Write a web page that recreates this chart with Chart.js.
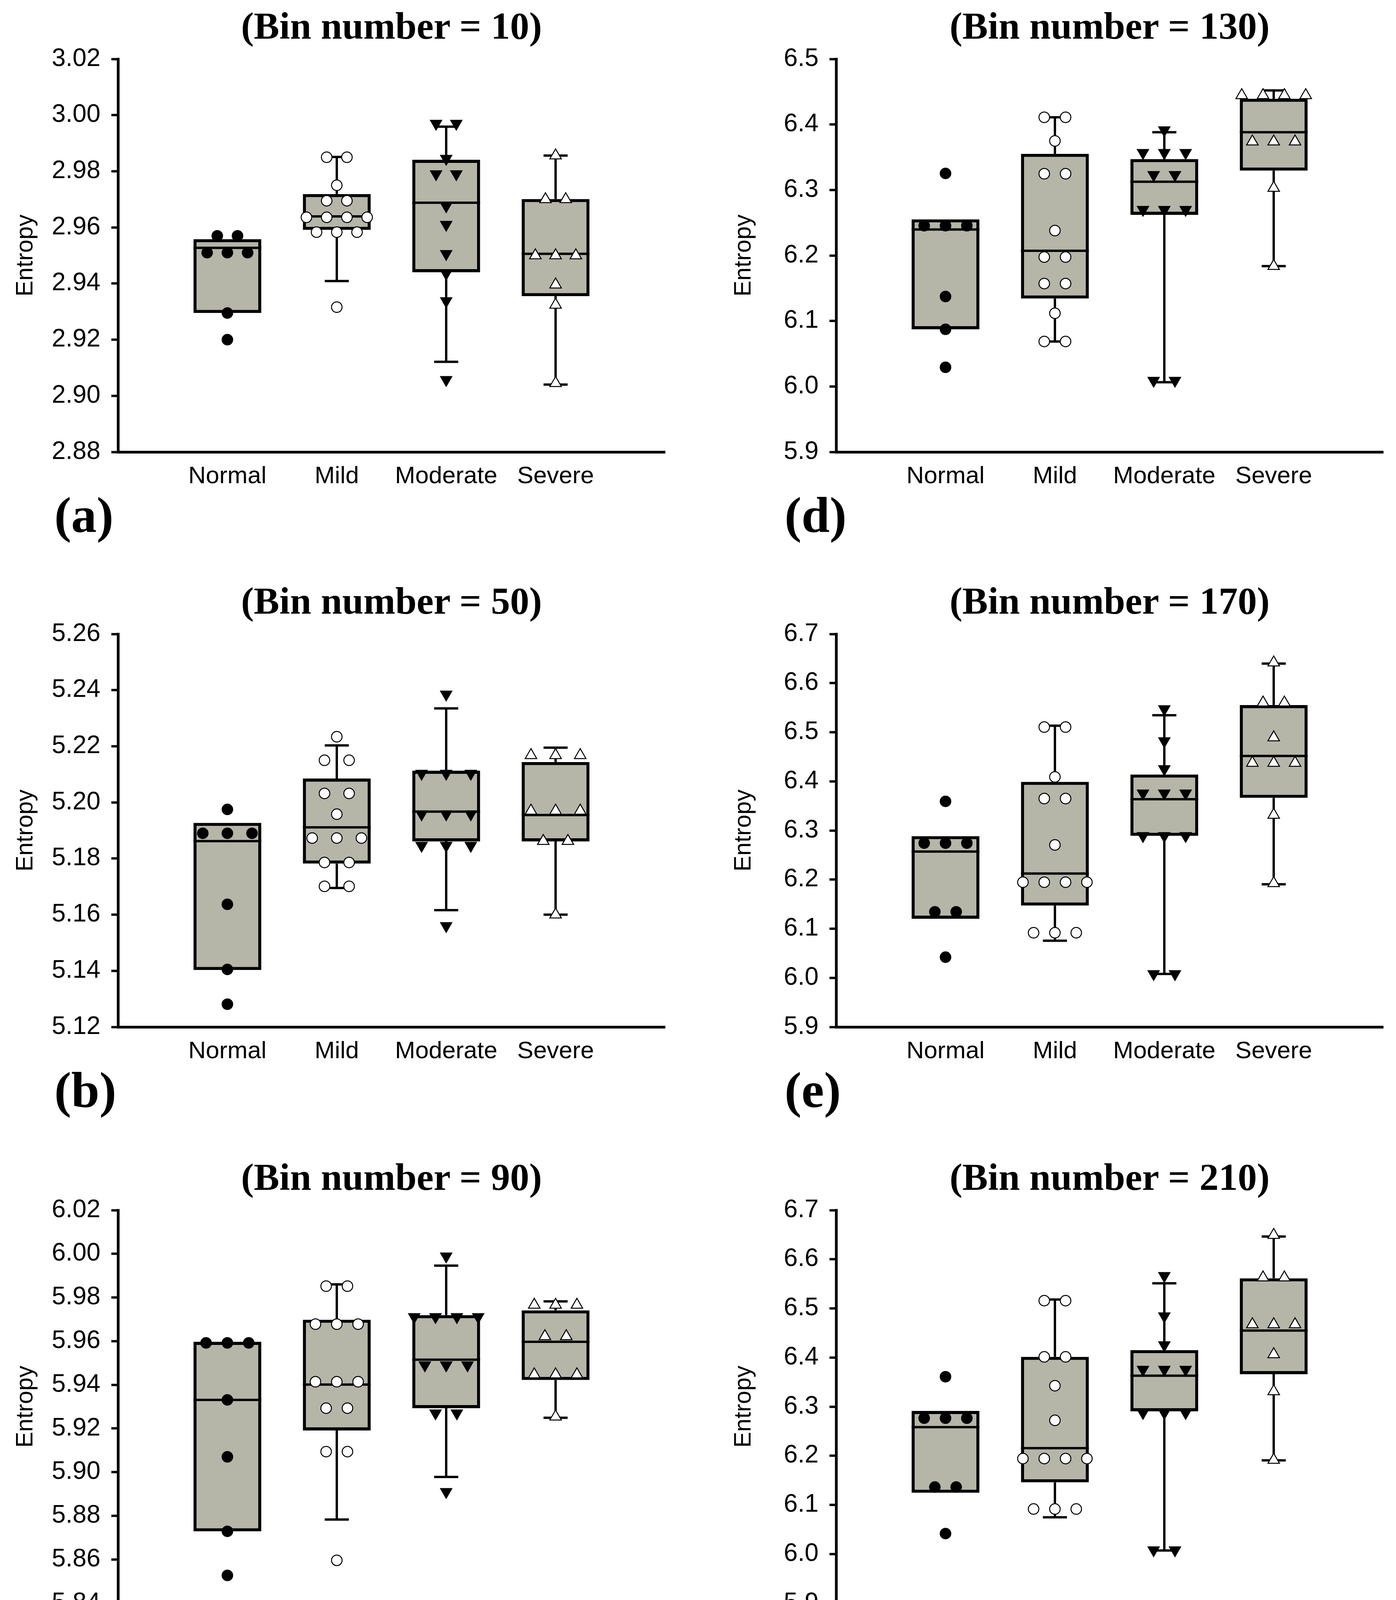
<!DOCTYPE html>
<html>
<head>
<meta charset="utf-8">
<script src="https://cdn.jsdelivr.net/npm/chart.js@4.4.0/dist/chart.umd.min.js"></script>
<style>
  body { margin: 0; width: 3573px; height: 4364px; background: #fff; position: relative; overflow: hidden; }
  canvas { position: absolute; }
  .title { position: absolute; font: bold 98px "Liberation Serif", serif; line-height: 1; white-space: nowrap; transform: translateX(-50%); color: #000; }
  .tag { position: absolute; font: bold 130px "Liberation Serif", serif; line-height: 1; color: #000; }
</style>
</head>
<body>
<script>
const groups = ["Normal", "Mild", "Moderate", "Severe"];

// bin number = 10
const q1_10 = [2.9295, 2.9591, 2.9440, 2.9355];
const med_10 = [2.9527, 2.9639, 2.9688, 2.9506];
const q3_10 = [2.9558, 2.9719, 2.9841, 2.9701];
const lo_10 = [null, 2.9409, 2.9121, 2.9040];
const hi_10 = [null, 2.9851, 2.9959, 2.9856];
const normal_10 = [2.957, 2.957, 2.951, 2.951, 2.951, 2.9295, 2.920];
const mild_10 = [2.985, 2.985, 2.975, 2.9695, 2.9695, 2.9636, 2.9636, 2.9636, 2.9636, 2.9583, 2.9583, 2.9583, 2.9316];
const moderate_10 = [2.997, 2.997, 2.9845, 2.979, 2.979, 2.9676, 2.961, 2.9506, 2.9436, 2.9338, 2.9057];
const severe_10 = [2.9856, 2.970, 2.970, 2.950, 2.950, 2.950, 2.9396, 2.9324, 2.9045];

// bin number = 50
const q1_50 = [5.1403, 5.1782, 5.1861, 5.1861];
const med_50 = [5.1862, 5.1911, 5.1967, 5.1955];
const q3_50 = [5.1927, 5.2085, 5.2113, 5.2144];
const lo_50 = [null, 5.1695, 5.1616, 5.1600];
const hi_50 = [null, 5.2203, 5.2335, 5.2195];
const normal_50 = [5.1975, 5.189, 5.189, 5.189, 5.1637, 5.1405, 5.1281];
const mild_50 = [5.2234, 5.215, 5.215, 5.2032, 5.2032, 5.1958, 5.1873, 5.1873, 5.1873, 5.1786, 5.1786, 5.1701, 5.1701];
const moderate_50 = [5.2385, 5.2103, 5.2103, 5.2103, 5.1958, 5.1958, 5.1958, 5.1846, 5.1846, 5.1846, 5.156];
const severe_50 = [5.2168, 5.2168, 5.2168, 5.197, 5.197, 5.197, 5.1862, 5.1862, 5.160];

// bin number = 90
const q1_90 = [5.8729, 5.9191, 5.9293, 5.9422];
const med_90 = [5.9331, 5.9401, 5.9515, 5.9597];
const q3_90 = [5.9597, 5.9698, 5.9719, 5.9741];
const lo_90 = [null, 5.8783, 5.8978, 5.9249];
const hi_90 = [null, 5.9860, 5.9946, 5.9782];
const normal_90 = [5.9592, 5.9592, 5.9592, 5.9331, 5.907, 5.8729, 5.8527];
const mild_90 = [5.9852, 5.9852, 5.9678, 5.9678, 5.9678, 5.9414, 5.9414, 5.9414, 5.9293, 5.9293, 5.9094, 5.9094, 5.8596];
const moderate_90 = [5.9989, 5.9711, 5.9711, 5.9711, 5.9711, 5.949, 5.949, 5.949, 5.927, 5.927, 5.891];
const severe_90 = [5.9766, 5.9766, 5.9766, 5.9622, 5.9622, 5.9447, 5.9447, 5.9447, 5.9254];

// bin number = 130
const q1_130 = [6.0873, 6.1342, 6.2620, 6.3296];
const med_130 = [6.2396, 6.2071, 6.3126, 6.3882];
const q3_130 = [6.2551, 6.3552, 6.3472, 6.4393];
const lo_130 = [null, 6.0687, 6.0064, 6.1837];
const hi_130 = [null, 6.4110, 6.3882, 6.4520];
const normal_130 = [6.3253, 6.2455, 6.2455, 6.2455, 6.1374, 6.0873, 6.0293];
const mild_130 = [6.411, 6.411, 6.3749, 6.3248, 6.3248, 6.238, 6.1976, 6.1976, 6.1571, 6.1571, 6.1118, 6.0687, 6.0687];
const moderate_130 = [6.3914, 6.3568, 6.3568, 6.3568, 6.3232, 6.3232, 6.27, 6.27, 6.27, 6.009, 6.009];
const severe_130 = [6.4446, 6.4446, 6.4446, 6.4446, 6.3738, 6.3738, 6.3738, 6.303, 6.1837];

// bin number = 170
const q1_170 = [6.1202, 6.1471, 6.2891, 6.3664];
const med_170 = [6.2571, 6.2124, 6.3636, 6.4516];
const q3_170 = [6.2884, 6.3991, 6.4140, 6.5552];
const lo_170 = [null, 6.0755, 6.0080, 6.1904];
const hi_170 = [null, 6.5133, 6.5346, 6.6397];
const normal_170 = [6.3593, 6.2742, 6.2742, 6.2742, 6.1344, 6.1344, 6.0421];
const mild_170 = [6.5105, 6.5105, 6.409, 6.365, 6.365, 6.2706, 6.1947, 6.1947, 6.1947, 6.1947, 6.0918, 6.0918, 6.0918];
const moderate_170 = [6.5474, 6.4821, 6.4253, 6.3757, 6.3757, 6.3757, 6.2891, 6.2891, 6.2891, 6.008, 6.008];
const severe_170 = [6.6418, 6.5602, 6.5602, 6.4892, 6.4374, 6.4374, 6.4374, 6.3317, 6.1925];

// bin number = 210
const q1_210 = [6.1246, 6.1459, 6.2905, 6.3661];
const med_210 = [6.2582, 6.2156, 6.3631, 6.4549];
const q3_210 = [6.2912, 6.4013, 6.4152, 6.5613];
const lo_210 = [null, 6.0747, 6.0072, 6.1906];
const hi_210 = [null, 6.5180, 6.5510, 6.6464];
const normal_210 = [6.3609, 6.2765, 6.2765, 6.2765, 6.1363, 6.1363, 6.0416];
const mild_210 = [6.5158, 6.5158, 6.4013, 6.4013, 6.3426, 6.2721, 6.1943, 6.1943, 6.1943, 6.1943, 6.0916, 6.0916, 6.0916];
const moderate_210 = [6.5664, 6.4842, 6.4255, 6.3756, 6.3756, 6.3756, 6.2875, 6.2875, 6.2875, 6.008, 6.008];
const severe_210 = [6.6494, 6.5628, 6.5628, 6.4673, 6.4673, 6.4673, 6.4064, 6.3311, 6.1914];

const panels = [
  { bin: 10, tag: "(a)", col: 0, row: 0, min: 2.88, max: 3.02, step: 0.02, dec: 2, jitter: 0.185,
    q1: q1_10, med: med_10, q3: q3_10, lo: lo_10, hi: hi_10, pts: [normal_10, mild_10, moderate_10, severe_10] },
  { bin: 50, tag: "(b)", col: 0, row: 1, min: 5.12, max: 5.26, step: 0.02, dec: 2, jitter: 0.225,
    q1: q1_50, med: med_50, q3: q3_50, lo: lo_50, hi: hi_50, pts: [normal_50, mild_50, moderate_50, severe_50] },
  { bin: 90, tag: "(c)", col: 0, row: 2, min: 5.84, max: 6.02, step: 0.02, dec: 2, jitter: 0.195,
    q1: q1_90, med: med_90, q3: q3_90, lo: lo_90, hi: hi_90, pts: [normal_90, mild_90, moderate_90, severe_90] },
  { bin: 130, tag: "(d)", col: 1, row: 0, min: 5.9, max: 6.5, step: 0.1, dec: 1, jitter: 0.195,
    q1: q1_130, med: med_130, q3: q3_130, lo: lo_130, hi: hi_130, pts: [normal_130, mild_130, moderate_130, severe_130] },
  { bin: 170, tag: "(e)", col: 1, row: 1, min: 5.9, max: 6.7, step: 0.1, dec: 1, jitter: 0.195,
    q1: q1_170, med: med_170, q3: q3_170, lo: lo_170, hi: hi_170, pts: [normal_170, mild_170, moderate_170, severe_170] },
  { bin: 210, tag: "(f)", col: 1, row: 2, min: 5.9, max: 6.7, step: 0.1, dec: 1, jitter: 0.195,
    q1: q1_210, med: med_210, q3: q3_210, lo: lo_210, hi: hi_210, pts: [normal_210, mild_210, moderate_210, severe_210] }
];

const markers = [
  { style: "circle", radius: 13.5, fill: "#000", border: 2.5, rot: 0 },
  { style: "circle", radius: 13.5, fill: "#fff", border: 2.5, rot: 0 },
  { style: "triangle", radius: 17, fill: "#000", border: 2, rot: 180 },
  { style: "triangle", radius: 17, fill: "#fff", border: 2.5, rot: 0 }
];

const colX = [0, 1838];
const rowY = [0, 1472, 2947];
const tagX = [139, 2008];

// equal values are spread sideways around the group position
function spread(values, pos, step) {
  const counts = {};
  const seen = {};
  values.forEach(v => counts[v] = (counts[v] || 0) + 1);
  return values.map(v => {
    const k = seen[v] || 0;
    seen[v] = k + 1;
    return { x: pos + (k - (counts[v] - 1) / 2) * step, y: v };
  });
}

function boxLines(p) {
  const out = [];
  groups.forEach((g, i) => {
    const x = i + 1;
    out.push({ x: x - 0.31, y: p.med[i] }, { x: x + 0.31, y: p.med[i] }, { x: x, y: null });
    if (p.hi[i] != null) {
      out.push({ x: x, y: p.q3[i] }, { x: x, y: p.hi[i] }, { x: x, y: null });
      out.push({ x: x - 0.11, y: p.hi[i] }, { x: x + 0.11, y: p.hi[i] }, { x: x, y: null });
    }
    if (p.lo[i] != null) {
      out.push({ x: x, y: p.q1[i] }, { x: x, y: p.lo[i] }, { x: x, y: null });
      out.push({ x: x - 0.11, y: p.lo[i] }, { x: x + 0.11, y: p.lo[i] }, { x: x, y: null });
    }
  });
  return out;
}

panels.forEach(p => {
  const left = colX[p.col];
  const top = rowY[p.row];

  const canvas = document.createElement("canvas");
  canvas.width = 1735;
  canvas.height = 1300;
  canvas.style.left = left + "px";
  canvas.style.top = top + "px";
  document.body.appendChild(canvas);

  const title = document.createElement("div");
  title.className = "title";
  title.textContent = "(Bin number = " + p.bin + ")";
  title.style.left = (left + 1002) + "px";
  title.style.top = (top + 17) + "px";
  document.body.appendChild(title);

  const tag = document.createElement("div");
  tag.className = "tag";
  tag.textContent = p.tag;
  tag.style.left = tagX[p.col] + "px";
  tag.style.top = (top + 1253) + "px";
  document.body.appendChild(tag);

  const datasets = [];
  datasets.push({
    type: "bar",
    data: groups.map((g, i) => ({ x: i + 1, y: [p.q1[i], p.q3[i]] })),
    backgroundColor: "#b5b5a8",
    borderColor: "#000",
    borderWidth: 8,
    borderSkipped: false,
    barPercentage: 0.62,
    categoryPercentage: 1,
    order: 3
  });
  datasets.push({
    type: "line",
    data: boxLines(p),
    borderColor: "#000",
    borderWidth: 6,
    pointRadius: 0,
    spanGaps: false,
    fill: false,
    order: 2
  });
  p.pts.forEach((vals, i) => {
    const m = markers[i];
    datasets.push({
      type: "scatter",
      data: spread(vals, i + 1, p.jitter),
      pointStyle: m.style,
      pointRadius: m.radius,
      pointRotation: m.rot,
      pointBackgroundColor: m.fill,
      pointBorderColor: "#000",
      pointBorderWidth: m.border,
      order: 1
    });
  });

  new Chart(canvas, {
    type: "scatter",
    data: { datasets: datasets },
    options: {
      responsive: false,
      animation: false,
      devicePixelRatio: 1,
      events: [],
      layout: { padding: { left: 0, right: 33, top: 151, bottom: 23 } },
      plugins: { legend: { display: false }, tooltip: { enabled: false } },
      scales: {
        x: {
          type: "linear",
          min: 0,
          max: 5,
          offset: false,
          afterBuildTicks: s => { s.ticks = [1, 2, 3, 4].map(v => ({ value: v })); },
          afterFit: s => { s.height = 120; },
          grid: { display: false, drawTicks: false, offset: false },
          border: { display: true, color: "#000", width: 7 },
          ticks: {
            color: "#000",
            font: { family: "Liberation Sans", size: 62 },
            padding: 26,
            maxRotation: 0,
            autoSkip: false,
            callback: v => groups[v - 1]
          }
        },
        y: {
          type: "linear",
          min: p.min,
          max: p.max,
          beginAtZero: false,
          afterBuildTicks: s => {
            const n = Math.round((p.max - p.min) / p.step);
            s.ticks = [];
            for (let k = 0; k <= n; k++) s.ticks.push({ value: +(p.min + k * p.step).toFixed(p.dec) });
          },
          afterFit: s => { s.width = 302; },
          grid: { display: true, drawOnChartArea: false, drawTicks: true, tickLength: 17, tickWidth: 6, tickColor: "#000" },
          border: { display: true, color: "#000", width: 7 },
          ticks: {
            color: "#000",
            font: { family: "Liberation Sans", size: 64 },
            padding: 28,
            callback: v => Number(v).toFixed(p.dec)
          },
          title: {
            display: true,
            text: "Entropy",
            color: "#000",
            font: { family: "Liberation Sans", size: 61 },
            padding: { top: 30, bottom: 0 }
          }
        }
      }
    }
  });
});
</script>
</body>
</html>
